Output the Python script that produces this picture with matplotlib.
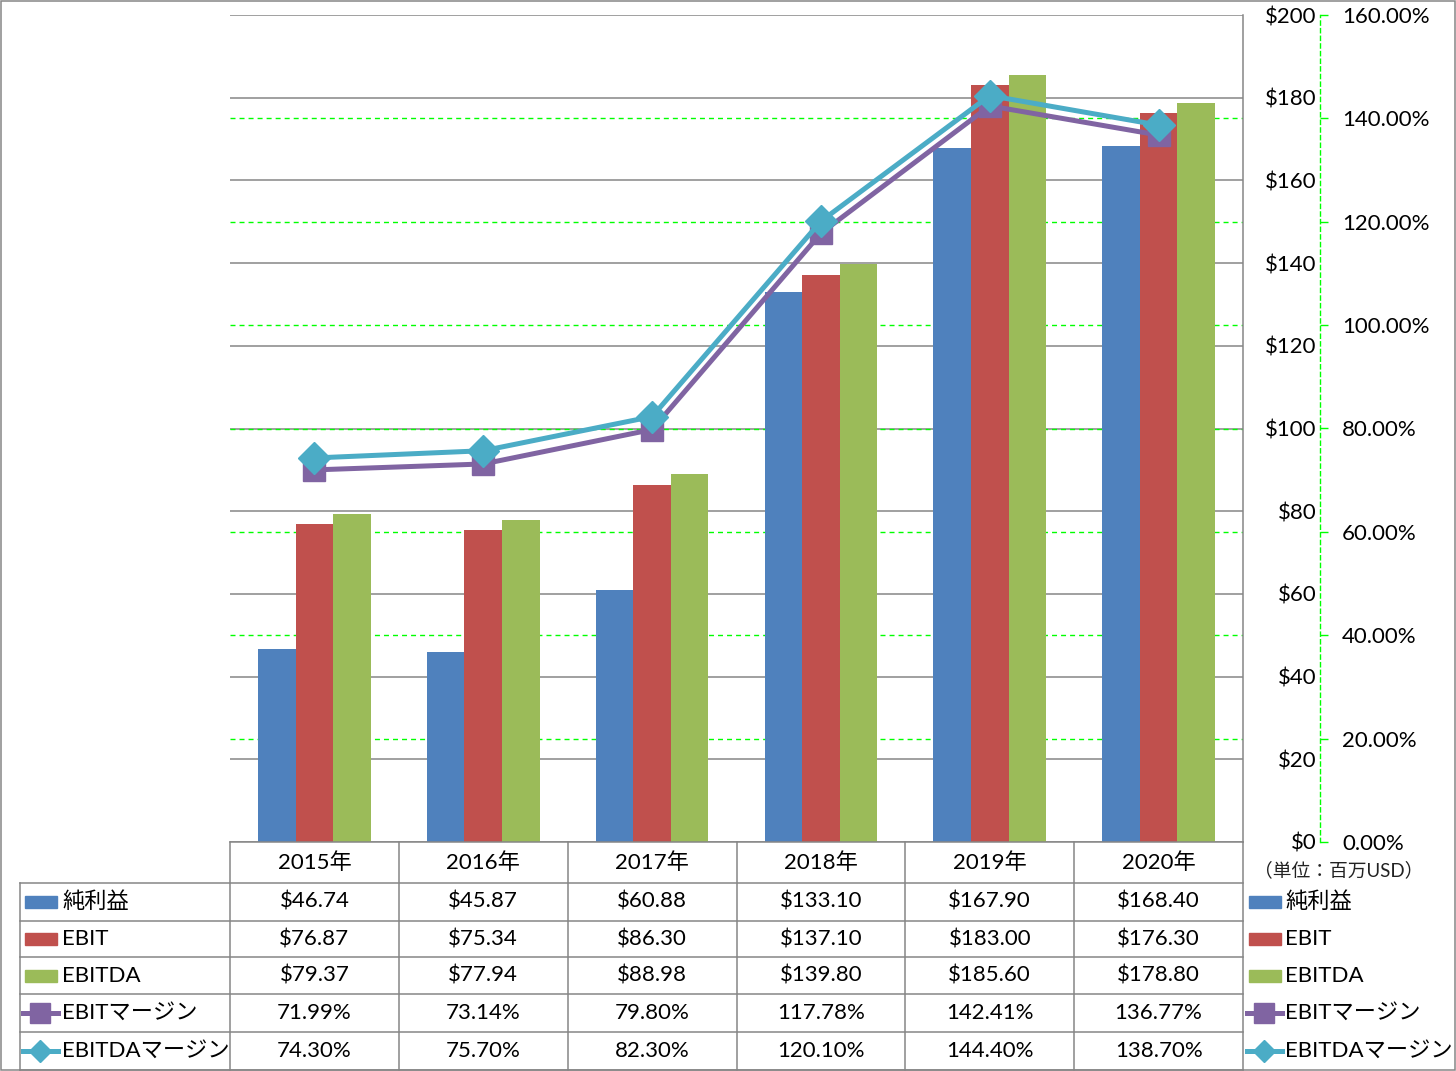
import numpy as np
import matplotlib
matplotlib.use('Agg')
import matplotlib.pyplot as plt
from matplotlib import transforms
from matplotlib.lines import Line2D
from matplotlib.patches import Rectangle

plt.rcParams['font.family'] = ['Lato', 'Noto Sans CJK JP', 'DejaVu Sans']

# データ（単位：百万USD / %）
years = ['2015年', '2016年', '2017年', '2018年', '2019年', '2020年']
net_income = [46.74, 45.87, 60.88, 133.10, 167.90, 168.40]
ebit = [76.87, 75.34, 86.30, 137.10, 183.00, 176.30]
ebitda = [79.37, 77.94, 88.98, 139.80, 185.60, 178.80]
ebit_margin = [71.99, 73.14, 79.80, 117.78, 142.41, 136.77]
ebitda_margin = [74.30, 75.70, 82.30, 120.10, 144.40, 138.70]
usd_ticks = list(range(0, 201, 20))
pct_ticks = list(range(0, 161, 20))
bar_names = ['純利益', 'EBIT', 'EBITDA']
line_names = ['EBITマージン', 'EBITDAマージン']
unit_note = '（単位：百万USD）'

bar_colors = ['#4F81BD', '#C0504D', '#9BBB59']
line_colors = ['#8064A2', '#4BACC6']
line_markers = ['s', 'D']
grid_gray = '#868686'
green = '#00FF00'
FS = 16

W, H = 1456, 1071
fig = plt.figure(figsize=(W / 100, H / 100), dpi=100)


def fx(px):
    return px / W


def fy(py):
    return 1 - py / H


# メインの棒グラフ
ax = fig.add_axes([fx(230), fy(842), fx(1243) - fx(230), fy(15) - fy(842)])
x = np.arange(len(years))
bw = 1 / 4.5
for k, (vals, col) in enumerate(zip([net_income, ebit, ebitda], bar_colors)):
    ax.bar(x + (k - 1) * bw, vals, bw, color=col, zorder=2)
ax.set_xlim(-0.5, 5.5)
ax.set_ylim(0, 200)
ax.set_xticks([])
ax.set_yticks(usd_ticks)
ax.set_yticklabels([f'${v}' for v in usd_ticks])
ax.grid(axis='y', color=grid_gray, lw=1.1)
ax.set_axisbelow(True)
for s in ['top', 'left']:
    ax.spines[s].set_visible(False)
for s in ['right', 'bottom']:
    ax.spines[s].set_color(grid_gray)
    ax.spines[s].set_linewidth(1.1)

# 第2軸（マージン %）
ax2 = ax.twinx()
ax2.set_ylim(0, 160)
ax2.set_yticks(pct_ticks)
ax2.set_yticklabels([f'{v:.2f}%' for v in pct_ticks])
for s in ['top', 'left', 'bottom']:
    ax2.spines[s].set_visible(False)
ax2.spines['right'].set_position(('outward', 77 * 0.72))
ax2.spines['right'].set_color(green)
ax2.spines['right'].set_linestyle((0, (3, 2.5)))
ax2.spines['right'].set_linewidth(1)
ax2.tick_params(axis='y', direction='out', length=6, width=1, color=green,
                pad=10, labelsize=FS)

# ドル軸のラベルはプロット右端の外側、右揃え
ax.tick_params(axis='y', left=False, right=False, labelleft=False,
               labelright=True, length=0, pad=53, labelsize=FS)
for t in ax.yaxis.get_major_ticks():
    t.label2.set_horizontalalignment('right')

# 緑の点線グリッド（棒の後ろ）
gtrans = transforms.blended_transform_factory(ax.transAxes, ax2.transData)
for v in pct_ticks[1:-1]:
    ax.add_line(Line2D([0, 1], [v, v], transform=gtrans, color=green, lw=1,
                       ls=(0, (3.6, 2.9)), zorder=1))

for vals, col, mk, z in zip([ebit_margin, ebitda_margin], line_colors,
                            line_markers, [3, 4]):
    ax2.plot(x, vals, color=col, lw=3.6, marker=mk, ms=16, zorder=z,
             solid_joinstyle='round')

# データテーブル
tb = transforms.blended_transform_factory(ax.transData, fig.transFigure)
rows_px = [842, 883, 921, 957, 994, 1032, 1070]
for yp in rows_px[1:]:
    fig.add_artist(Line2D([fx(20), fx(1243)], [fy(yp), fy(yp)], color=grid_gray, lw=1.1))
for b in np.arange(-0.5, 6, 1):
    fig.add_artist(Line2D([b, b], [fy(842), fy(1070)], transform=tb, color=grid_gray, lw=1.1))
fig.add_artist(Line2D([fx(20), fx(20)], [fy(883), fy(1070)], color=grid_gray, lw=1.1))

for i, yr in enumerate(years):
    fig.text(i, (fy(842) + fy(883)) / 2, yr, transform=tb, ha='center',
             va='center', fontsize=FS)

table_rows = [
    [f'${v:.2f}' for v in net_income],
    [f'${v:.2f}' for v in ebit],
    [f'${v:.2f}' for v in ebitda],
    [f'{v:.2f}%' for v in ebit_margin],
    [f'{v:.2f}%' for v in ebitda_margin],
]
names = bar_names + line_names
for r, cells in enumerate(table_rows):
    yc = (fy(rows_px[r + 1]) + fy(rows_px[r + 2])) / 2
    for i, txt in enumerate(cells):
        fig.text(i, yc, txt, transform=tb, ha='center', va='center', fontsize=FS)

    # 凡例キー（左・右）
    for kx, tx in [(25, 62), (1249, 1285)]:
        if r < 3:
            fig.add_artist(Rectangle((fx(kx), yc - 6 / H), 32 / W, 12 / H,
                                     color=bar_colors[r], transform=fig.transFigure))
        else:
            c = line_colors[r - 3]
            fig.add_artist(Line2D([fx(kx - 2), fx(kx + 33)], [yc, yc], color=c, lw=3.6))
            fig.add_artist(Line2D([fx(kx + 15)], [yc], color=c, ls='none',
                                  marker=line_markers[r - 3],
                                  ms=14 if r == 3 else 11))
        fig.text(fx(tx), yc, names[r], ha='left', va='center', fontsize=FS)

fig.text(fx(1254), fy(870), unit_note, ha='left', va='center', fontsize=13.5,
         color='#222222')

# 外枠
fig.add_artist(Rectangle((fx(0.5), fy(1070)), fx(1455) - fx(0.5), fy(0.5) - fy(1070),
                         fill=False, edgecolor=grid_gray, lw=1.1,
                         transform=fig.transFigure))

fig.savefig('out.png', dpi=100)
